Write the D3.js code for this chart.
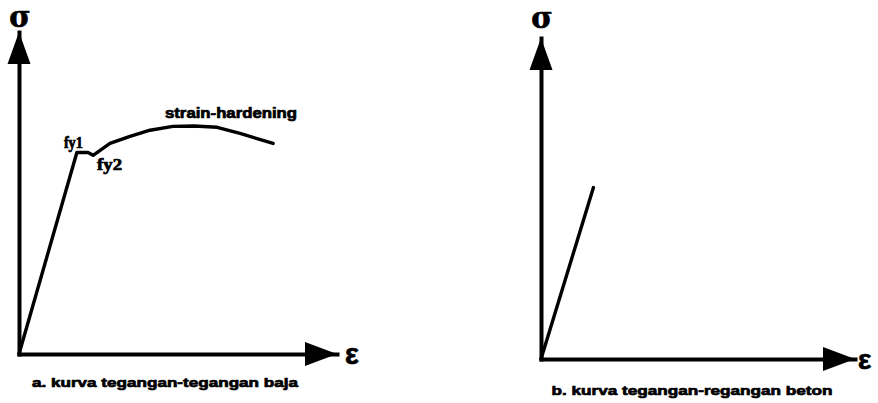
<!DOCTYPE html>
<html>
<head>
<meta charset="utf-8">
<script src="https://cdn.jsdelivr.net/npm/d3@7/dist/d3.min.js"></script>
<style>
  html, body { margin: 0; padding: 0; background: #fff; }
  svg { display: block; }
</style>
</head>
<body>
<script>
// Steel stress-strain curve (strain, stress) in relative units of the axes (0-10)
const steelStrain = [0, 1.82, 2.17, 2.33, 2.86, 3.49, 4.12, 4.84, 5.5, 6.23, 6.95, 7.99];
const steelStress = [0, 6.26, 6.26, 6.17, 6.54, 6.76, 6.95, 7.07, 7.08, 7.04, 6.85, 6.54];
// Concrete stress-strain curve (linear up to failure)
const concreteStrain = [0, 1.67];
const concreteStress = [0, 5.34];
// Text labels
const axisLabels = { stress: "σ", strain: "ε" };
const steelNotes = ["fy1", "fy2", "strain-hardening"];
const captions = ["a. kurva tegangan-tegangan baja", "b. kurva tegangan-regangan beton"];

const W = 878, H = 403;
const svg = d3.select("body").append("svg").attr("width", W).attr("height", H);

const panels = [
  { x0: 19, x1: 337, y0: 354, y1: 32, xs: steelStrain, ys: steelStress, caption: captions[0],
    capX: 165, capY: 387, capLen: 266, sigmaY: 27, epsDx: 8, epsSize: 29 },
  { x0: 541, x1: 855, y0: 359, y1: 38, xs: concreteStrain, ys: concreteStress, caption: captions[1],
    capX: 692, capY: 395, capLen: 281, sigmaY: 28, epsDx: 3, epsSize: 28 }
];

// Heavy, slightly spread lettering
const heavy = sel => sel.attr("fill", "#000").attr("stroke", "#000")
  .attr("stroke-width", 0.7).attr("stroke-linejoin", "round");

panels.forEach((p, i) => {
  const x = d3.scaleLinear().domain([0, 10]).range([p.x0, p.x1]);
  const y = d3.scaleLinear().domain([0, 10]).range([p.y0, p.y1]);
  const g = svg.append("g");

  // Axes as plain domain lines without ticks
  const xAxis = g.append("g").attr("transform", `translate(0,${p.y0})`)
    .call(d3.axisBottom(x).tickValues([]).tickSizeOuter(0));
  const yAxis = g.append("g").attr("transform", `translate(${p.x0},0)`)
    .call(d3.axisLeft(y).tickValues([]).tickSizeOuter(0));
  [xAxis, yAxis].forEach(a => a.select(".domain")
    .attr("stroke", "#000").attr("stroke-width", 4).attr("stroke-linecap", "square"));

  // Arrowheads
  const ah = 32, aw = 12;
  g.append("path")
    .attr("d", `M${x(10)},${p.y0} L${x(10) - ah},${p.y0 - aw} L${x(10) - ah},${p.y0 + aw} Z`)
    .attr("fill", "#000");
  g.append("path")
    .attr("d", `M${p.x0},${y(10)} L${p.x0 - 11.5},${y(10) + ah} L${p.x0 + 11.5},${y(10) + ah} Z`)
    .attr("fill", "#000");

  // Axis symbols
  g.append("text").attr("x", p.x0 + 1).attr("y", p.sigmaY)
    .attr("text-anchor", "middle")
    .attr("font-family", "DejaVu Serif").attr("font-weight", "bold").attr("font-size", 29)
    .call(heavy).text(axisLabels.stress);
  g.append("text").attr("x", x(10) + p.epsDx).attr("y", p.y0 + 10)
    .attr("font-family", "Liberation Sans").attr("font-weight", "bold").attr("font-size", p.epsSize)
    .call(heavy).text(axisLabels.strain);

  // Curve
  const pts = p.xs.map((v, k) => [v, p.ys[k]]);
  g.append("path").datum(pts)
    .attr("d", d3.line().x(d => x(d[0])).y(d => y(d[1])))
    .attr("fill", "none").attr("stroke", "#000").attr("stroke-width", 3.4)
    .attr("stroke-linejoin", "round").attr("stroke-linecap", "round");

  // Caption
  g.append("text").attr("x", p.capX).attr("y", p.capY)
    .attr("text-anchor", "middle")
    .attr("font-family", "Liberation Sans").attr("font-weight", "bold").attr("font-size", 13)
    .attr("textLength", p.capLen).attr("lengthAdjust", "spacingAndGlyphs")
    .call(heavy).text(p.caption);

  if (i === 0) {
    const noteStyle = sel => sel.attr("font-family", "Liberation Serif")
      .attr("font-weight", "bold").attr("font-size", 16).call(heavy);
    g.append("text").attr("x", x(steelStrain[1]) - 13).attr("y", y(steelStress[1]) - 4)
      .call(noteStyle).attr("textLength", 19).attr("lengthAdjust", "spacingAndGlyphs")
      .text(steelNotes[0]);
    g.append("text").attr("x", x(steelStrain[3]) + 4).attr("y", y(steelStress[3]) + 15)
      .call(noteStyle).attr("textLength", 25).attr("lengthAdjust", "spacingAndGlyphs")
      .text(steelNotes[1]);
    g.append("text").attr("x", 231).attr("y", 118)
      .attr("text-anchor", "middle")
      .attr("font-family", "Liberation Sans").attr("font-weight", "bold").attr("font-size", 14)
      .attr("textLength", 132).attr("lengthAdjust", "spacingAndGlyphs")
      .call(heavy).text(steelNotes[2]);
  }
});
</script>
</body>
</html>
